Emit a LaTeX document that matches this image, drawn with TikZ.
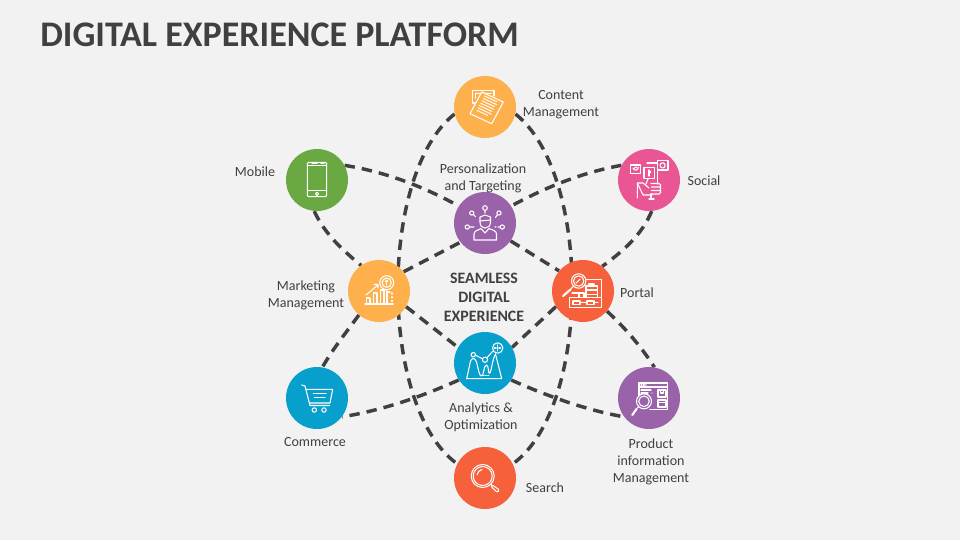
\documentclass[tikz,border=0pt]{standalone}
\usepackage{fontspec}
\setmainfont{Carlito}
\pgfdeclarelayer{edges}
\pgfsetlayers{edges,main}
\definecolor{bgc}{HTML}{F2F2F2}
\definecolor{ink}{HTML}{404040}
\definecolor{orangeC}{HTML}{FDB04B}
\definecolor{greenC}{HTML}{6AA842}
\definecolor{pinkC}{HTML}{EA5694}
\definecolor{purpleC}{HTML}{9A62A8}
\definecolor{redC}{HTML}{F6603B}
\definecolor{blueC}{HTML}{079FCC}
\tikzset{
  hub/.style={circle,minimum size=46.5pt,inner sep=0pt,fill=#1},
  lbl/.style={text=ink,font=\fontsize{10.5}{12.75}\selectfont,align=center,inner sep=0pt},
  link/.style={draw=ink,line width=2.6pt,dash pattern=on 7.8pt off 5.3pt},
  ico/.style={draw=white,line width=0.8pt,line join=round,line cap=round}
}
\begin{document}
\begin{tikzpicture}[x=0.75pt,y=-0.75pt]
\useasboundingbox (0,0) rectangle (960,540);
% hubs
\node[hub=orangeC] (content) at (485,107) {};
\node[hub=greenC] (mobile) at (317,180) {};
\node[hub=pinkC] (social) at (649,180) {};
\node[hub=purpleC] (person) at (485,223) {};
\node[hub=orangeC] (market) at (379,291) {};
\node[hub=redC] (portal) at (583,291) {};
\node[hub=blueC] (analytics) at (485,363) {};
\node[hub=blueC] (commerce) at (317,398) {};
\node[hub=purpleC] (product) at (649,398) {};
\node[hub=redC] (search) at (485,478) {};
% connectors
\begin{pgfonlayer}{edges}
\fill[bgc] (0,0) rectangle (960,540);
\draw[link] (content.193) .. controls (378.5,174) and (378.5,407) .. (search.153);
\draw[link] (content.-13) .. controls (591.5,174) and (591.5,407) .. (search.27);
\draw[link] (mobile.28) .. controls (385,172) and (420,185) .. (person.147);
\draw[link] (social.152) .. controls (585,172) and (550,185) .. (person.33);
\draw[link] (analytics.213) .. controls (425,395) and (385,410) .. (commerce.-37);
\draw[link] (analytics.-33) .. controls (545,395) and (585,410) .. (product.217);
\draw[link] (mobile.-95) .. controls (325,235) and (345,252) .. (market.125);
\draw[link] (market.-130) .. controls (348,330) and (332,350) .. (commerce.80);
\draw[link] (social.-85) .. controls (642,235) and (622,252) .. (portal.52);
\draw[link] (portal.-40) .. controls (625,328) and (640,345) .. (product.80);
\draw[link] (market.38) -- (person.218);
\draw[link] (person.-35) -- (portal.140);
\draw[link] (market.-30) -- (analytics.150);
\draw[link] (portal.210) -- (analytics.30);
\end{pgfonlayer}
% title and labels
\node[anchor=west,inner sep=0pt,text=ink,font=\fontsize{27}{30}\selectfont\bfseries] (title) at (40,35) {DIGITAL EXPERIENCE PLATFORM};
\node[lbl] (t1) at (561,105) {Content\\Management};
\node[lbl] (t2) at (255,172) {Mobile};
\node[lbl] (t3) at (704,181) {Social};
\node[lbl] (t4) at (483,178) {Personalization\\and Targeting};
\node[lbl] (t5) at (306,295) {Marketing\\Management};
\node[lbl] (t6) at (637,293) {Portal};
\node[lbl,font=\fontsize{11.9}{14.25}\selectfont\bfseries] (t7) at (484,297) {SEAMLESS\\DIGITAL\\EXPERIENCE};
\node[lbl] (t8) at (481,417) {Analytics \&\\Optimization};
\node[lbl] (t9) at (315,442) {Commerce};
\node[lbl] (t10) at (651,462) {Product\\information\\Management};
\node[lbl] (t11) at (545,488) {Search};
% icon: content
\begin{scope}[shift={(485,107)},ico]
\draw (-6,-4) -- (-12.5,-4) -- (-12.5,-16.5) -- (9,-16.5) -- (9,-11);
\draw (-9.5,-9) -- (-9.5,-13.5) -- (6,-13.5);
\draw[fill=orangeC] (-3.3,-15) -- (18.3,-5) -- (6.7,16.7) -- (-15,6.7) -- cycle;
\foreach \a/\b in {0/.8,.12/.85,.24/.8,.36/.85,.48/.8,.6/.85,.72/.7}{
  \draw[line width=.7pt] ({-2.5+\a*(-10.5)+2},{-11+\a*20}) -- ({-2.5+\a*(-10.5)+2+\b*15.5},{-11+\a*20+\b*7.2});
}
\end{scope}
% icon: mobile
\begin{scope}[shift={(317,180)},ico]
\draw[rounded corners=1pt] (-9.7,-17.7) rectangle (9.7,16.7);
\draw (-9.7,-14.7) -- (9.7,-14.7);
\draw (-9.7,10.7) -- (9.7,10.7);
\draw (-5,-16.2) -- (0,-16.2) (4,-16.2) -- (7,-16.2);
\draw (0,13.8) circle (1.6);
\end{scope}
% icon: personalization
\begin{scope}[shift={(485,223)},ico]
\draw (-5,-1) -- (-5,-6) -- (0,-8) -- (5.5,-6) -- (5.5,-1) .. controls (5.5,3) and (3,5) .. (0,5) .. controls (-3,5) and (-5,3) .. (-5,-1);
\draw (-5,-2) -- (5.5,-3);
\draw (-11,17) -- (-11,11) .. controls (-11,8) and (-7,7) .. (-4,5.5) -- (0,10) -- (4,5.5) .. controls (8,7) and (11.5,8) .. (11.5,11) -- (11.5,17) -- cycle;
\draw (0,-15) circle (2.3) (0,-12.7) -- (0,-10);
\draw (-13.3,-10) circle (2.1) (-11.8,-8.5) -- (-9.5,-6.5);
\draw (14,-10) circle (2.1) (12.5,-8.5) -- (10.5,-5.5);
\draw (-17.7,4) circle (2.1) (-15.6,4) -- (-11,4);
\draw (17.3,4) circle (2.1) (15.2,4) -- (13,4) (11,4) -- (10,4);
\end{scope}
% icon: social
\begin{scope}[shift={(649,180)},ico]
\draw (-18.3,-15) rectangle (-8.3,-6.7);
\draw (-5,-12.3) rectangle (5.7,-1.7);
\draw (8.3,-19.3) rectangle (19,-10);
\draw (13.6,-14.6) circle (2.6);
\draw (-16,-11.5) .. controls (-14,-9) and (-12,-9.5) .. (-10.5,-12.5) (-16,-11.5) -- (-12,-13);
\draw (0,-10) -- (0,-4) (0,-8) -- (1.8,-8);
\draw (-2,-17) -- (8,-17);
\draw (8.5,-9) -- (8.5,4);
\draw (-11.7,18) -- (-11.7,3) -- (-6,3) -- (0,8) (-3,4) -- (-1,-1);
\draw (-11.7,3) -- (-6,15) -- (3,15);
\draw[rounded corners=1pt] (2,3.5) -- (11.5,3.5) -- (11.5,14) -- (2,14) (2.5,7) -- (11.5,7) (2.5,10.5) -- (11.5,10.5);
\draw (2,14) -- (2,19) (0,19) -- (5,19);
\fill[white] (-2.5,6) circle (.7);
\end{scope}
% icon: marketing
\begin{scope}[shift={(379,291)},ico]
\draw (-14,13) -- (14.3,13);
\draw (-12.5,13) -- (-12.5,7) -- (-9,7) -- (-9,13);
\draw (-5.5,13) -- (-5.5,2) -- (-2,2) -- (-2,13);
\draw (1.5,13) -- (1.5,-1) -- (5,-1) -- (5,13);
\draw (8,13) -- (8,1) -- (11,1);
\draw[dotted] (13,2) -- (13,12);
\draw (-13,4) -- (-1,-6) (-5,-6.5) -- (-1,-6.5) -- (-1,-3);
\draw (7.7,-8.3) circle (7);
\draw (7.7,-8.3) circle (4.6);
\draw (7.7,-6) -- (7.7,-10.5) (6.3,-9.5) -- (7.7,-10.8) -- (9,-9.5);
\draw (7.7,-1.3) -- (7.7,1);
\end{scope}
% icon: portal
\begin{scope}[shift={(583,291)},ico]
\draw (2,-11.7) -- (18.3,-11.7) -- (18.3,6.7);
\draw (-13.3,6.7) rectangle (18.3,16.7);
\draw (-10,10) -- (-10,13.5) -- (-3,13.5) -- (-3,10) -- (-10,10);
\draw (-3,11.5) -- (4,11.5);
\draw (4,10) rectangle (11,13.5);
\draw (11,11.5) -- (15,11.5);
\draw (-4,6.7) -- (-4,2) -- (-11,2) (-4,2) -- (1,2) (1,2) -- (1,6.7);
\draw (3,-5) rectangle (14.5,-1);
\draw (3,-1) rectangle (14.5,3.5);
\draw (3,3.5) -- (3,6.7) (14.5,3.5) -- (14.5,6.7);
\draw (6,-5) -- (6,-7) -- (11,-7) -- (11,-5);
\draw[fill=redC] (-4.3,-10) circle (7.2);
\draw (-4.3,-10) circle (5.2);
\draw (-7,-8) -- (-3,-12);
\draw (-9.5,-5) -- (-12,-2.5);
\draw[line width=1.6pt] (-12.5,-1.5) -- (-20,5);
\end{scope}
% icon: analytics
\begin{scope}[shift={(485,363)},ico]
\draw (-18.3,15.7) -- (16.7,15.7) -- (10.5,-9);
\draw (-18.3,15.7) -- (-14.5,-2) .. controls (-12.5,-6) and (-10,-5) .. (-8.5,-1) .. controls (-6.5,6) and (-6,13) .. (-3.5,13) .. controls (-1,13) and (-1.5,2) .. (1.5,2) .. controls (4,2) and (3,13) .. (5,10) .. controls (7,6) and (7,-3) .. (10.5,-9);
\draw (-11.7,-8.3) circle (2.2);
\draw (0,-3.3) circle (2.6);
\draw (-9.5,-7.8) -- (-2.5,-4.2);
\draw (1.8,-5.2) -- (8,-12);
\draw (12.7,-15) circle (5.2);
\draw[densely dotted] (9.5,-15) -- (16,-15) (12.7,-18) -- (12.7,-12);
\draw[densely dotted] (-2,12.5) -- (4,12.5);
\end{scope}
% icon: commerce
\begin{scope}[shift={(317,398)},ico]
\draw (-15.3,-13) -- (-12,-12) -- (-7,7.5) -- (12.5,7.5);
\draw (-11,-8.7) -- (15.7,-8.7) -- (13,5) -- (-7.5,5);
\draw (-3.7,-4.7) -- (9,-4.7) (-2.5,-.3) -- (8,-.3);
\draw (-2.7,12) circle (2.2) (7,12) circle (2.2);
\end{scope}
% icon: product
\begin{scope}[shift={(649,398)},ico]
\draw (-10,-2) -- (-10,-15) -- (18.3,-15) -- (18.3,11.7) -- (1,11.7);
\draw (-10,-11) -- (18.3,-11);
\draw[densely dotted] (-8,-13) -- (-3,-13);
\draw (-8,-8) -- (2,-8) (-8,-5) -- (-1,-5) (3,-5) -- (3,-5);
\draw (9,-8) rectangle (17,-1);
\draw (11.5,-8) -- (11.5,-5) -- (14.5,-5) -- (14.5,-8);
\draw (9,2) rectangle (17,9);
\draw (9,4.5) -- (17,4.5);
\draw[fill=purpleC] (-5,3.3) circle (7.5);
\draw (-5,3.3) circle (5.3);
\draw (-10.5,8.8) -- (-12,10.3);
\draw[line width=1.6pt] (-12.5,11) -- (-16.7,17);
\end{scope}
% icon: search
\begin{scope}[shift={(485,478)},ico]
\draw (-2.3,-2) circle (11.5);
\draw (-2.3,-2) circle (9.5);
\draw (-8,-3) .. controls (-7.5,-6) and (-5.5,-8) .. (-3,-8.5);
\draw (5.8,6.2) -- (7.5,7.9);
\draw[rounded corners=1pt] (7,6.8) -- (14.5,12) -- (12.5,14.5) -- (6,8.5) -- cycle;
\end{scope}
\end{tikzpicture}
\end{document}
